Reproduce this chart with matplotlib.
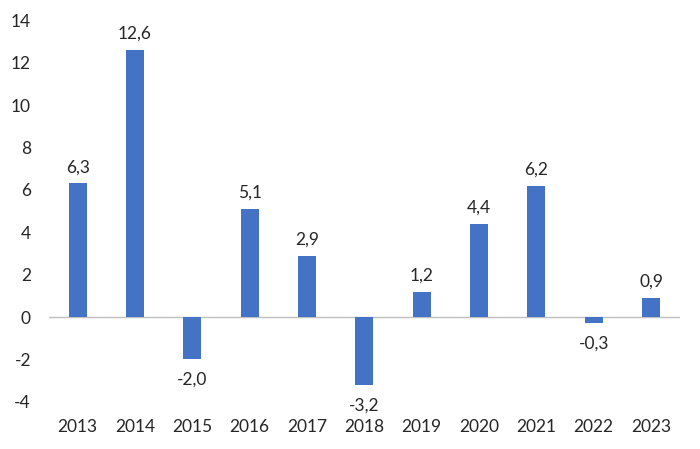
import matplotlib
matplotlib.use("Agg")
import matplotlib.pyplot as plt

years = ["2013", "2014", "2015", "2016", "2017", "2018", "2019", "2020", "2021", "2022", "2023"]
values = [6.3, 12.6, -2.0, 5.1, 2.9, -3.2, 1.2, 4.4, 6.2, -0.3, 0.9]
yticks = [-4, -2, 0, 2, 4, 6, 8, 10, 12, 14]

plt.rcParams['font.family'] = ['Lato', 'DejaVu Sans']
txt = '#262626'
fs = 12.5

fig = plt.figure(figsize=(7.0, 4.49), dpi=100)
ax = fig.add_axes([0.07, 0.105, 0.901, 0.850])
x = list(range(len(years)))
ax.bar(x, values, width=0.31, color='#4472C4', zorder=2)
ax.axhline(0, color='#BFBFBF', lw=1.0, zorder=1)
ax.set_xlim(-0.5, len(years) - 0.5)
ax.set_ylim(-4, 14)
ax.set_yticks(yticks)
ax.set_yticklabels([str(t) for t in yticks])
ax.set_xticks(x)
ax.set_xticklabels(years)
for s in ax.spines.values():
    s.set_visible(False)
ax.tick_params(axis='y', length=0, pad=13, labelsize=fs, labelcolor=txt)
ax.tick_params(axis='x', length=0, pad=12, labelsize=fs, labelcolor=txt)

for xi, v in zip(x, values):
    lab = f"{v:.1f}".replace('.', ',')
    if v >= 0:
        ax.annotate(lab, (xi, v), xytext=(0, 6), textcoords='offset points',
                    ha='center', va='bottom', fontsize=fs, color=txt)
    else:
        ax.annotate(lab, (xi, v), xytext=(0, -9), textcoords='offset points',
                    ha='center', va='top', fontsize=fs, color=txt)

fig.savefig('out.png', dpi=100)
